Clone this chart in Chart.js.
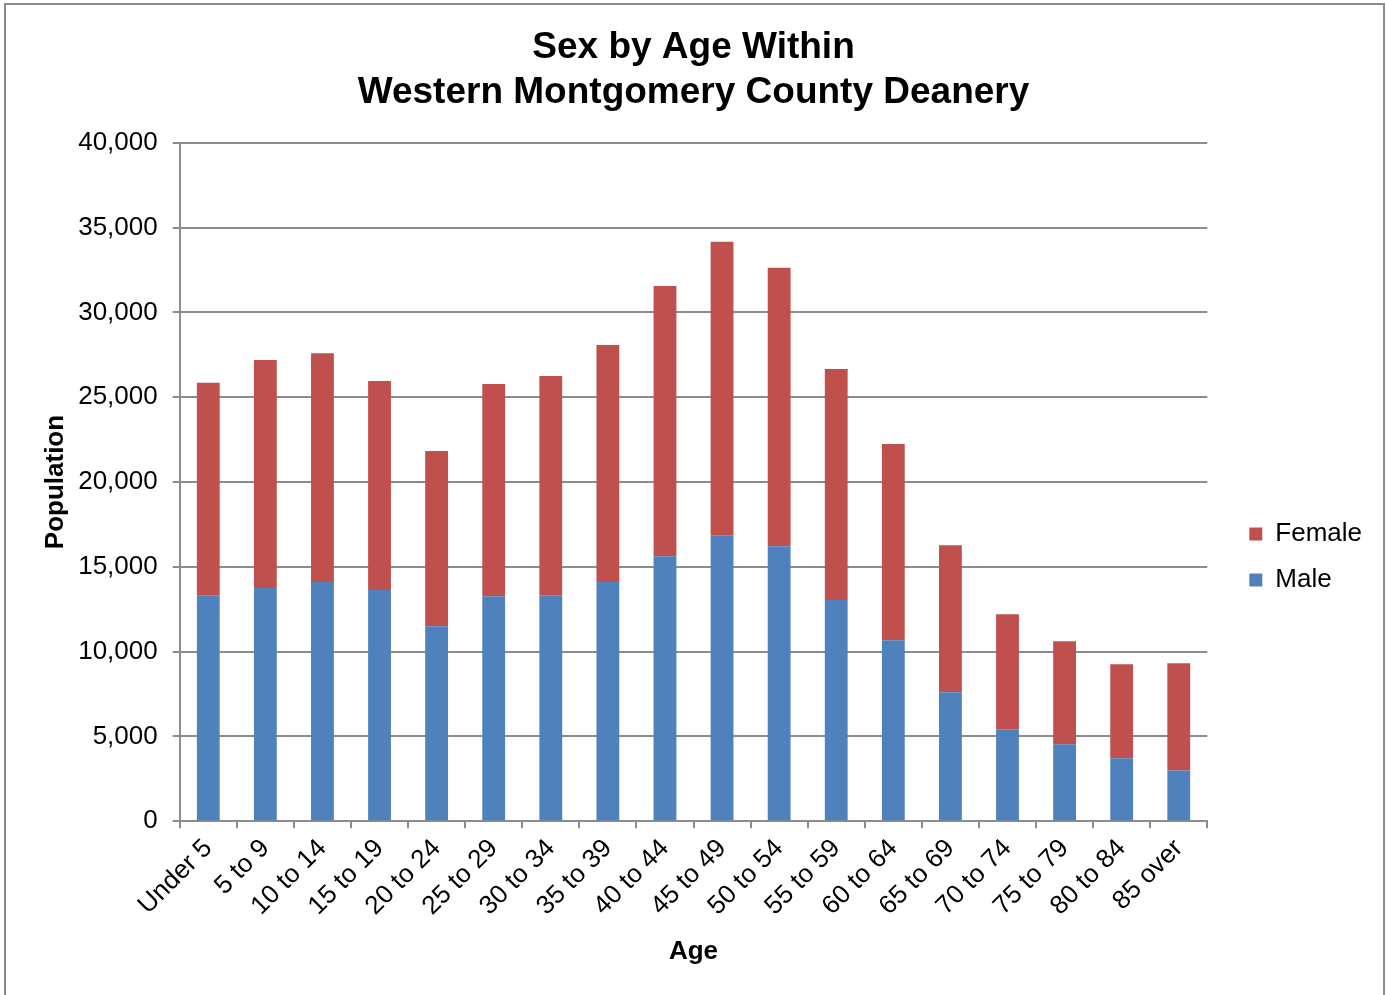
<!DOCTYPE html>
<html>
<head>
<meta charset="utf-8">
<script src="https://cdn.jsdelivr.net/npm/chart.js@4.4.0/dist/chart.umd.min.js"></script>
<style>
    body { margin: 0; background: #fff; }
    #wrap {
        position: absolute;
        left: 4px;
        top: 3px;
        width: 1377px;
        height: 1000px;
        border: 2px solid #8c8c8c;
        background: #fff;
    }
</style>
</head>
<body>
<div id="wrap"><canvas id="barChart"></canvas></div>
<script>
// Age groups and population by sex
const ageGroups = ['Under 5', '5 to 9', '10 to 14', '15 to 19', '20 to 24', '25 to 29',
    '30 to 34', '35 to 39', '40 to 44', '45 to 49', '50 to 54', '55 to 59',
    '60 to 64', '65 to 69', '70 to 74', '75 to 79', '80 to 84', '85 over'];
const maleValues = [13330, 13750, 14100, 13630, 11500, 13270, 13330, 14100, 15630,
    16870, 16220, 13040, 10680, 7610, 5430, 4540, 3720, 3000];
const femaleValues = [12520, 13450, 13500, 12330, 10330, 12510, 12920, 13980, 15930,
    17290, 16410, 13630, 11560, 8670, 6780, 6080, 5540, 6320];
const yTicks = [0, 5000, 10000, 15000, 20000, 25000, 30000, 35000, 40000];

const FONT = "'Liberation Sans', Arial, sans-serif";
Chart.defaults.font.family = FONT;
Chart.defaults.color = '#000';

document.addEventListener('DOMContentLoaded', function() {
    const ctx = document.getElementById('barChart').getContext('2d');
    new Chart(ctx, {
        type: 'bar',
        data: {
            labels: ageGroups,
            datasets: [
                {
                    label: 'Male',
                    data: maleValues,
                    backgroundColor: '#4F81BD',
                    barPercentage: 0.4,
                    categoryPercentage: 1.0
                },
                {
                    label: 'Female',
                    data: femaleValues,
                    backgroundColor: '#C0504D',
                    barPercentage: 0.4,
                    categoryPercentage: 1.0
                }
            ]
        },
        options: {
            responsive: true,
            maintainAspectRatio: false,
            animation: false,
            layout: {
                padding: { left: 34, right: 11, top: 21, bottom: 34 }
            },
            plugins: {
                title: {
                    display: true,
                    fullSize: false,
                    text: ['Sex by Age Within', 'Western Montgomery County Deanery'],
                    font: { size: 37, weight: 'bold' },
                    lineHeight: 1.19,
                    padding: { top: 0, bottom: 28 }
                },
                legend: {
                    position: 'right',
                    reverse: true,
                    align: 'start',
                    title: {
                        display: true,
                        text: ' ',
                        font: { size: 10 },
                        padding: { top: 463, bottom: 0 }
                    },
                    labels: {
                        boxWidth: 13,
                        boxHeight: 13,
                        padding: 20,
                        font: { size: 26 }
                    }
                },
                tooltip: { enabled: false }
            },
            scales: {
                x: {
                    stacked: true,
                    offset: true,
                    border: { color: '#8c8c8c', width: 2 },
                    grid: {
                        offset: true,
                        drawOnChartArea: false,
                        drawTicks: true,
                        tickLength: 7,
                        color: '#8c8c8c',
                        lineWidth: 2
                    },
                    ticks: {
                        font: { size: 26 },
                        maxRotation: 45,
                        minRotation: 45,
                        padding: 5
                    },
                    title: {
                        display: true,
                        text: 'Age',
                        font: { size: 26, weight: 'bold' },
                        padding: { top: 9 }
                    }
                },
                y: {
                    stacked: true,
                    min: 0,
                    max: 40000,
                    afterBuildTicks: function(scale) {
                        scale.ticks = yTicks.map(v => ({ value: v }));
                    },
                    border: { color: '#8c8c8c', width: 2 },
                    grid: {
                        color: '#8c8c8c',
                        lineWidth: 2,
                        tickLength: 7
                    },
                    ticks: {
                        font: { size: 26 },
                        padding: 15,
                        callback: function(value) {
                            return value.toLocaleString('en-US');
                        }
                    },
                    title: {
                        display: true,
                        text: 'Population',
                        font: { size: 26, weight: 'bold' },
                        padding: { top: 0, bottom: -8 }
                    }
                },
                // empty right-hand spacer between the plot and the legend
                gap: {
                    type: 'linear',
                    position: 'right',
                    display: true,
                    grid: { display: false },
                    border: { display: false },
                    ticks: { display: false },
                    afterFit: function(scale) {
                        scale.width = 22;
                    }
                }
            }
        }
    });
});
</script>
</body>
</html>
